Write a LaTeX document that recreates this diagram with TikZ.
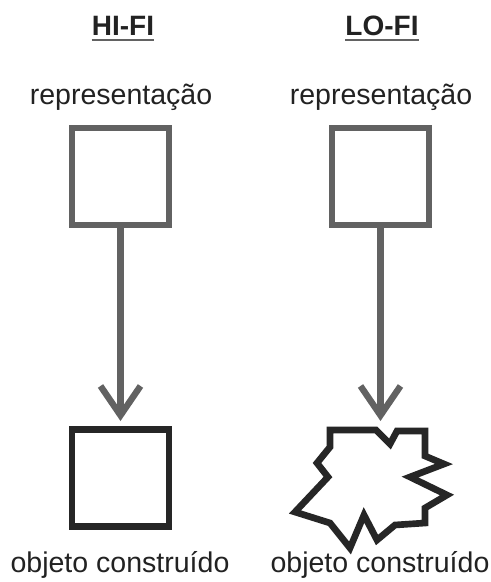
\documentclass[tikz,border=0pt]{standalone}
\usepackage{fontspec}
\setmainfont{Liberation Sans}
\usetikzlibrary{arrows.meta}
\definecolor{boxgray}{HTML}{626262}
\definecolor{darkline}{HTML}{262626}
\definecolor{txt}{HTML}{222222}
\begin{document}
\begin{tikzpicture}[x=0.75pt,y=-0.75pt,
  repbox/.style={draw=boxgray,line width=5pt,minimum size=72.75pt,inner sep=0pt,fill=white},
  objbox/.style={draw=darkline,line width=5pt,minimum size=72.75pt,inner sep=0pt,fill=white},
  label/.style={text=txt,anchor=base,inner sep=0pt,font=\fontsize{21.4}{25}\selectfont},
  title/.style={text=txt,anchor=base,inner sep=0pt,font=\fontsize{21}{25}\selectfont\bfseries},
  uline/.style={draw=boxgray,line width=1.4pt},
  conn/.style={draw=boxgray,line width=4.8pt,-{Straight Barb[length=22pt,width=30pt,line width=4.8pt]}}]
\useasboundingbox[fill=white] (0,0) rectangle (491,582);
% titles
\node[title] (t1) at (123,35) {HI-FI};
\node[title] (t2) at (382,35) {LO-FI};
\draw[uline] ([yshift=-3.6pt]t1.base west) -- ([yshift=-3.6pt]t1.base east);
\draw[uline] ([yshift=-3.6pt]t2.base west) -- ([yshift=-3.6pt]t2.base east);
% labels top
\node[label] (r1) at (121,104) {representação};
\node[label] (r2) at (381,104) {representação};
% squares
\node[repbox] (s1) at (120.5,176.5) {};
\node[repbox] (s2) at (380.5,176.5) {};
\node[objbox] (o1) at (120.5,478) {};
% irregular shape
\draw[darkline,line width=5pt,line join=miter,miter limit=10]
  (330,430) -- (376,430) -- (390,444) -- (397,431) -- (425,431) -- (425,456)
  -- (444,464) -- (410,477) -- (447,495) -- (425,508) -- (425,523) -- (395,525)
  -- (377,540) -- (364,515) -- (350,548) -- (330,523) -- (295,512) -- (328,477)
  -- (317,463) -- (330,447) -- cycle;
\coordinate (o2) at (380.5,421);
% arrows
\draw[conn] (s1.south) -- (o1.north |- o2);
\draw[conn] (s2.south) -- (o2);
% bottom labels
\node[label] (b1) at (120,572) {objeto construído};
\node[label] (b2) at (380,572) {objeto construído};
\end{tikzpicture}
\end{document}
